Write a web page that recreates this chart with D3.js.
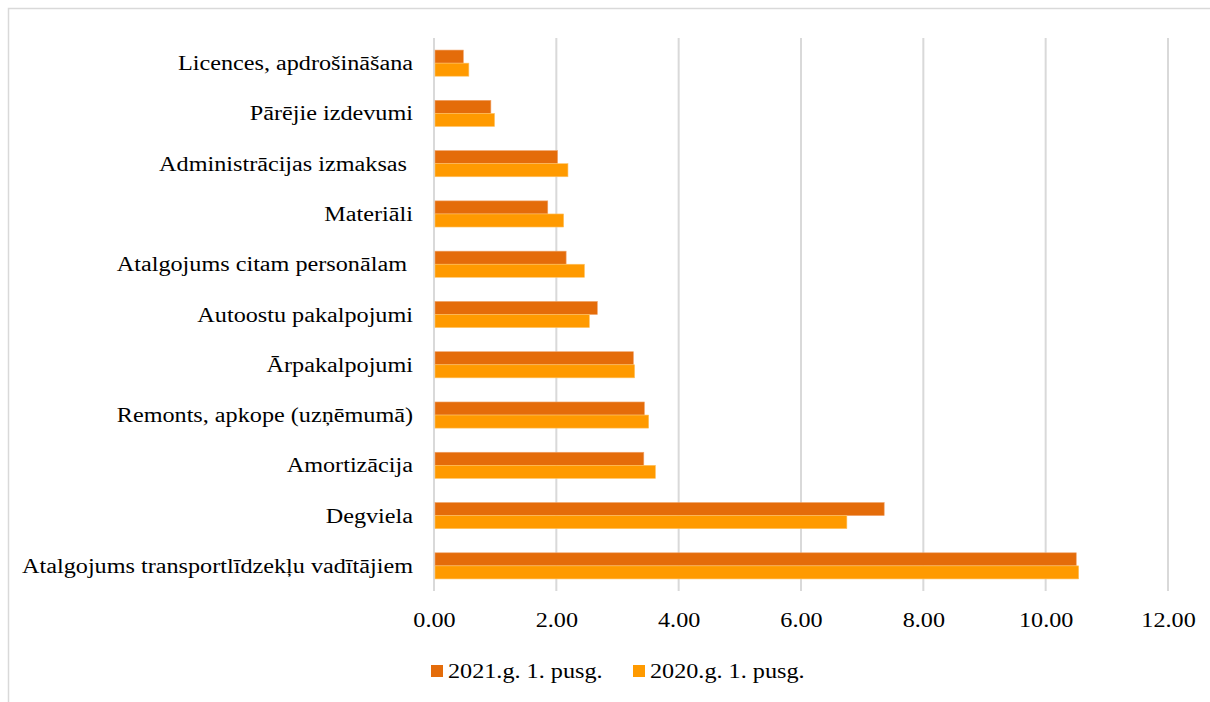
<!DOCTYPE html>
<html>
<head>
<meta charset="utf-8">
<script src="https://cdn.jsdelivr.net/npm/d3@7"></script>
<style>
  body { margin: 0; background: #fff; }
  text { font-family: "Liberation Serif", "Times New Roman", serif; fill: #000; }
</style>
</head>
<body>
<svg id="chart"></svg>
<script>
'use strict';

// categories top to bottom
const categories = [
  'Licences, apdrošināšana',
  'Pārējie izdevumi',
  'Administrācijas izmaksas ',
  'Materiāli',
  'Atalgojums citam personālam ',
  'Autoostu pakalpojumi',
  'Ārpakalpojumi',
  'Remonts, apkope (uzņēmumā)',
  'Amortizācija',
  'Degviela',
  'Atalgojums transportlīdzekļu vadītājiem'
];
const seriesNames = ['2021.g. 1. pusg.', '2020.g. 1. pusg.'];
const values2021 = [0.48, 0.93, 2.02, 1.86, 2.16, 2.67, 3.26, 3.44, 3.43, 7.36, 10.50];
const values2020 = [0.57, 0.99, 2.19, 2.12, 2.46, 2.54, 3.28, 3.51, 3.62, 6.75, 10.54];
const xTicks = [0, 2, 4, 6, 8, 10, 12];
const colors = ['#E46C0A', '#FF9A00'];

const width = 1210;
const height = 702;
const margin = { top: 38, right: 42, bottom: 111, left: 434 };
const FONT_SIZE = 20;
const STRETCH = 1.21; // reference text is drawn horizontally wider

const svg = d3.select('#chart')
  .attr('width', width)
  .attr('height', height);

// outer chart border (runs past the window edge)
svg.append('rect')
  .attr('x', 8.5)
  .attr('y', 8.5)
  .attr('width', width + 20)
  .attr('height', height + 20)
  .attr('fill', 'none')
  .attr('stroke', '#D9D9D9')
  .attr('stroke-width', 1.5);

const xScale = d3.scaleLinear()
  .domain([0, 12])
  .range([margin.left, width - margin.right]);

const yScale = d3.scaleBand()
  .domain(categories)
  .range([margin.top, height - margin.bottom])
  .paddingInner(0.48)
  .paddingOuter(0.24);

const subScale = d3.scaleBand()
  .domain(seriesNames)
  .range([0, yScale.bandwidth()]);

function stretched(x, y) {
  return 'translate(' + x + ',' + y + ') scale(' + STRETCH + ',1)';
}

// gridlines
svg.append('g')
  .selectAll('line')
  .data(xTicks)
  .join('line')
  .attr('x1', d => xScale(d))
  .attr('x2', d => xScale(d))
  .attr('y1', margin.top)
  .attr('y2', height - margin.bottom)
  .attr('stroke', '#D9D9D9')
  .attr('stroke-width', 2);

// bars
const rows = categories.map((c, i) => ({
  cat: c,
  vals: [values2021[i], values2020[i]]
}));

const groups = svg.append('g')
  .selectAll('g')
  .data(rows)
  .join('g')
  .attr('transform', d => 'translate(0,' + yScale(d.cat) + ')');

groups.selectAll('rect')
  .data(d => d.vals.map((v, j) => ({ v: v, s: seriesNames[j], j: j })))
  .join('rect')
  .attr('x', xScale(0) + 1)
  .attr('y', d => subScale(d.s))
  .attr('width', d => xScale(d.v) - xScale(0) - 1)
  .attr('height', subScale.bandwidth())
  .attr('fill', d => colors[d.j])
  .attr('stroke', d => d.j === 0 ? '#F0A36A' : '#FFC466')
  .attr('stroke-width', 0.6);

// category labels
svg.append('g')
  .selectAll('text')
  .data(categories)
  .join('text')
  .attr('transform', d => stretched(margin.left - 21, yScale(d) + yScale.bandwidth() / 2))
  .attr('dy', '0.35em')
  .attr('text-anchor', 'end')
  .style('white-space', 'pre')
  .attr('font-size', FONT_SIZE)
  .text(d => d);

// x tick labels
const xAxis = d3.axisBottom(xScale)
  .tickValues(xTicks)
  .tickSize(0)
  .tickPadding(0)
  .tickFormat(d3.format('.2f'));

const axisG = svg.append('g')
  .attr('transform', 'translate(0,' + (height - margin.bottom + 36) + ')')
  .call(xAxis);
axisG.select('.domain').remove();
axisG.selectAll('text')
  .attr('font-size', FONT_SIZE)
  .attr('font-family', '"Liberation Serif", serif')
  .attr('fill', '#000')
  .attr('y', 0)
  .attr('dy', 0)
  .attr('transform', 'scale(' + STRETCH + ',1)')
  .attr('x', 0);

// legend
const legendX = [431, 633];
const legend = svg.append('g')
  .selectAll('g')
  .data(seriesNames)
  .join('g')
  .attr('transform', (d, i) => 'translate(' + legendX[i] + ',671)');

legend.append('rect')
  .attr('x', 0)
  .attr('y', -6)
  .attr('width', 12)
  .attr('height', 12)
  .attr('fill', (d, i) => colors[i]);

legend.append('text')
  .attr('transform', stretched(17, 0))
  .attr('dy', '0.35em')
  .attr('font-size', FONT_SIZE)
  .text(d => d);
</script>
</body>
</html>
